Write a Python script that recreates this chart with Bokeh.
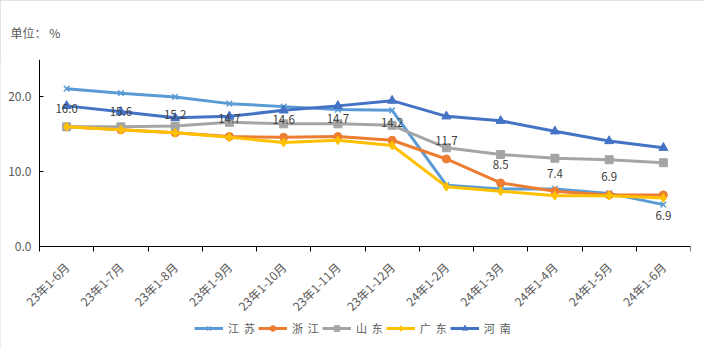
import math
from bokeh.plotting import figure
from bokeh.models import (Range1d, FixedTicker, Legend, LegendItem, ColumnDataSource,
                          PrintfTickFormatter)
from bokeh.core.properties import value
from bokeh.embed import file_html
from bokeh.resources import INLINE

categories = ["23年1-6月", "23年1-7月", "23年1-8月", "23年1-9月", "23年1-10月", "23年1-11月",
              "23年1-12月", "24年1-2月", "24年1-3月", "24年1-4月", "24年1-5月", "24年1-6月"]
jiangsu = [21.1, 20.5, 20.0, 19.1, 18.7, 18.3, 18.2, 8.2, 7.7, 7.7, 7.1, 5.6]
zhejiang = [16.0, 15.6, 15.2, 14.7, 14.6, 14.7, 14.2, 11.7, 8.5, 7.4, 6.9, 6.9]
shandong = [16.0, 16.0, 16.1, 16.6, 16.4, 16.4, 16.2, 13.2, 12.3, 11.8, 11.6, 11.2]
guangdong = [16.0, 15.6, 15.2, 14.6, 13.9, 14.2, 13.5, 8.0, 7.4, 6.8, 6.8, 6.5]
henan = [18.8, 18.0, 17.2, 17.4, 18.2, 18.8, 19.5, 17.4, 16.8, 15.4, 14.1, 13.2]
series_names = ["江  苏", "浙  江", "山  东", "广  东", "河  南"]
y_ticks = [0, 10, 20]
unit_title = "单位：  %"

FONT = "Noto Sans CJK SC"
TXT = "#595959"

# layout (pixels)
W, H = 704, 349
RIGHT, TOP = 14, 59
AXIS_X_PX = 39           # screen column of the value axis
AXIS_Y_PX = 246          # screen row of value 0
Y_MAX = 25.0
n_cat = len(categories)
px_per_unit = (AXIS_Y_PX - TOP) / Y_MAX
y_min = -(H - AXIS_Y_PX) / px_per_unit
px_per_cat = (W - RIGHT - AXIS_X_PX) / n_cat
x_min = 0.5 - AXIS_X_PX / px_per_cat

xs = list(range(1, n_cat + 1))

p = figure(width=W, height=H, output_backend="svg", toolbar_location=None,
           x_range=Range1d(x_min, n_cat + 0.5), y_range=Range1d(y_min, Y_MAX),
           min_border_left=0, min_border_right=RIGHT, min_border_top=TOP, min_border_bottom=0)
p.styles = {"outline": "1px solid #d9d9d9", "outline-offset": "-1px"}
p.outline_line_color = None
p.xgrid.visible = False
p.ygrid.visible = False
p.background_fill_color = "white"
p.border_fill_color = "white"

p.title.text = unit_title
p.title.text_font = FONT
p.title.text_font_size = "12px"
p.title.text_font_style = "normal"
p.title.text_color = TXT
p.title.align = "left"
p.title.offset = 10
p.title.standoff = 37

# x axis, drawn at value 0 inside the frame
xa = p.xaxis[0]
xa.fixed_location = 0
xa.bounds = (0.5, n_cat + 0.5)
xa.ticker = FixedTicker(ticks=xs, minor_ticks=[i + 0.5 for i in range(n_cat + 1)])
xa.major_label_overrides = {x: c for x, c in zip(xs, categories)}
xa.major_label_orientation = math.pi / 4
xa.major_tick_in = 0
xa.major_tick_out = 0
xa.minor_tick_in = 0
xa.minor_tick_out = 5
xa.minor_tick_line_color = "black"
xa.axis_line_color = "black"
xa.major_label_text_font = FONT
xa.major_label_text_font_size = "12px"
xa.major_label_text_color = TXT
xa.major_label_standoff = 13

ya = p.yaxis[0]
ya.fixed_location = 0.5
ya.bounds = (0, Y_MAX)
ya.ticker = FixedTicker(ticks=y_ticks)
ya.formatter = PrintfTickFormatter(format="%.1f")
ya.major_tick_in = 4
ya.major_tick_out = 0
ya.minor_tick_line_color = None
ya.axis_line_color = "black"
ya.major_tick_line_color = "black"
ya.major_label_text_font = FONT
ya.major_label_text_font_size = "12px"
ya.major_label_text_color = TXT
ya.major_label_standoff = 8

colors = ["#5B9BD5", "#ED7D31", "#A5A5A5", "#FFC000", "#4472C4"]
markers = ["x", "circle", "square", "diamond", "triangle"]
sizes = [8, 8, 8, 9, 9]
data = [jiangsu, zhejiang, shandong, guangdong, henan]

items = []
for name, vals, c, m, s in zip(series_names, data, colors, markers, sizes):
    src = ColumnDataSource(dict(x=xs, y=vals))
    ln = p.line("x", "y", source=src, line_color=c, line_width=3)
    if m == "x":
        mk = p.scatter("x", "y", source=src, marker=m, size=s, line_color=c, line_width=1.5)
    else:
        mk = p.scatter("x", "y", source=src, marker=m, size=s, fill_color=c, line_color=c)
    items.append(LegendItem(label=name, renderers=[ln, mk]))

# data labels for Zhejiang
n = len(zhejiang)
lab_src_up = ColumnDataSource(dict(x=xs[:n - 1], y=zhejiang[:n - 1],
                                   t=[f"{v:.1f}" for v in zhejiang[:n - 1]]))
lab_src_dn = ColumnDataSource(dict(x=xs[n - 1:], y=zhejiang[n - 1:],
                                   t=[f"{v:.1f}" for v in zhejiang[n - 1:]]))
for src, off in ((lab_src_up, -18), (lab_src_dn, 21)):
    p.text("x", "y", text="t", source=src, text_align="center", text_baseline="middle",
           y_offset=off, text_font=value(FONT), text_font_size="11.5px", text_color="#404040")

legend = Legend(items=items, orientation="horizontal", location=(194, 11),
                glyph_width=29, glyph_height=14, label_standoff=5, spacing=3,
                label_height=20, padding=0, margin=0, border_line_color=None,
                background_fill_alpha=0,
                label_text_font=FONT, label_text_font_size="11px", label_text_color=TXT)
p.add_layout(legend, "center")

open("out.html", "w").write(file_html(p, INLINE))
